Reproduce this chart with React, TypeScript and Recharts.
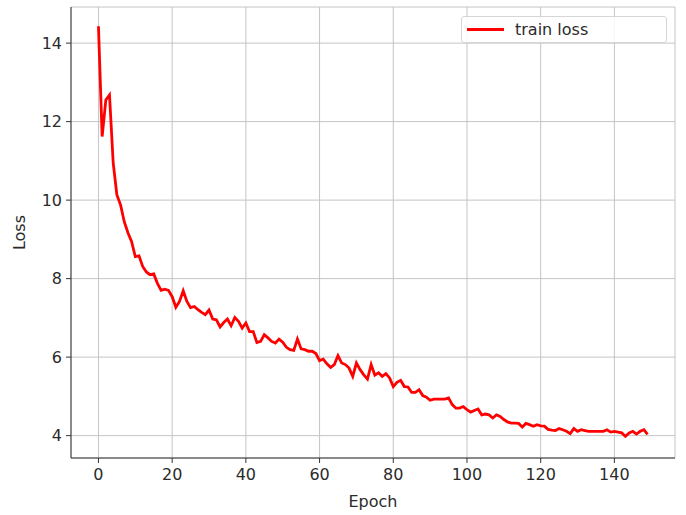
import {
  CartesianGrid,
  Line,
  LineChart,
  XAxis,
  YAxis,
} from "recharts";

// per-epoch training loss (epochs 0..149)
const trainLoss = [
  14.43, 11.62, 12.55, 12.68, 10.95, 10.13, 9.88, 9.45, 9.17, 8.94,
  8.56, 8.58, 8.31, 8.17, 8.1, 8.12, 7.88, 7.7, 7.73, 7.7,
  7.54, 7.27, 7.42, 7.69, 7.42, 7.26, 7.29, 7.21, 7.14, 7.08,
  7.2, 6.97, 6.95, 6.77, 6.88, 6.97, 6.8, 7.01, 6.91, 6.74,
  6.87, 6.65, 6.65, 6.37, 6.4, 6.57, 6.49, 6.4, 6.36, 6.46,
  6.38, 6.25, 6.19, 6.17, 6.46, 6.21, 6.19, 6.15, 6.15, 6.09,
  5.91, 5.95, 5.83, 5.74, 5.81, 6.04, 5.85, 5.81, 5.72, 5.51,
  5.85, 5.68, 5.55, 5.44, 5.81, 5.54, 5.6, 5.51, 5.58, 5.47,
  5.25, 5.36, 5.41, 5.25, 5.24, 5.1, 5.1, 5.17, 5.02, 4.98,
  4.9, 4.93, 4.93, 4.93, 4.93, 4.96, 4.79, 4.7, 4.7, 4.74,
  4.66, 4.6, 4.64, 4.68, 4.53, 4.55, 4.53, 4.45, 4.53, 4.49,
  4.41, 4.35, 4.32, 4.32, 4.31, 4.22, 4.31, 4.28, 4.24, 4.28,
  4.25, 4.24, 4.16, 4.14, 4.13, 4.18, 4.15, 4.11, 4.05, 4.18,
  4.11, 4.15, 4.13, 4.11, 4.11, 4.11, 4.11, 4.11, 4.15, 4.09,
  4.11, 4.09, 4.07, 3.98, 4.07, 4.11, 4.04, 4.11, 4.15, 4.03,
];

const xTicks = [0, 20, 40, 60, 80, 100, 120, 140];
const yTicks = [4, 6, 8, 10, 12, 14];

const data = trainLoss.map((loss, epoch) => ({ epoch, loss }));

const font = "DejaVu Sans";
const ink = "#2b2b2b";
const fs = 16;

// matplotlib-style legend box, laid over the top right of the plot
function LossLegend() {
  return (
    <div
      style={{
        position: "absolute",
        left: 461,
        top: 16,
        width: 204,
        height: 25,
        border: "1px solid #d6d6d6",
        borderRadius: 3,
        background: "rgba(255,255,255,0.85)",
        display: "flex",
        alignItems: "center",
        fontFamily: font,
        fontSize: fs,
        color: ink,
      }}
    >
      <span
        style={{
          display: "inline-block",
          width: 37,
          height: 3,
          background: "#ff0000",
          marginLeft: 5,
          marginRight: 11,
        }}
      />
      train loss
    </div>
  );
}

export default function App() {
  return (
    <div
      style={{
        position: "absolute",
        left: 0,
        top: 0,
        width: 686,
        height: 515,
        background: "#fff",
      }}
    >
      <LineChart
        width={686}
        height={515}
        data={data}
        margin={{ top: 7, right: 11, bottom: 0, left: 0 }}
      >
        <CartesianGrid stroke="#c4c4c4" strokeWidth={1} />
        <XAxis
          dataKey="epoch"
          type="number"
          domain={[-7.45, 156.45]}
          ticks={xTicks}
          allowDataOverflow
          height={57}
          stroke="#333"
          tickSize={5}
          tickMargin={6}
          tick={{ fill: ink, fontSize: fs, fontFamily: font }}
          label={{
            value: "Epoch",
            position: "insideBottom",
            offset: 8,
            style: { fill: ink, fontSize: fs, fontFamily: font },
          }}
        />
        <XAxis
          xAxisId="top"
          orientation="top"
          dataKey="epoch"
          type="number"
          domain={[-7.45, 156.45]}
          height={0}
          tick={false}
          tickLine={false}
          stroke="#333"
        />
        <YAxis
          type="number"
          domain={[3.43, 14.92]}
          ticks={yTicks}
          allowDataOverflow
          width={71}
          stroke="#333"
          tickSize={5}
          tickMargin={4}
          tick={{ fill: ink, fontSize: fs, fontFamily: font }}
          label={{
            value: "Loss",
            angle: -90,
            position: "insideLeft",
            offset: 19,
            style: { textAnchor: "middle", fill: ink, fontSize: fs, fontFamily: font },
          }}
        />
        <YAxis
          yAxisId="right"
          orientation="right"
          domain={[3.43, 14.92]}
          width={0}
          tick={false}
          tickLine={false}
          stroke="#333"
        />
        <Line
          type="linear"
          dataKey="loss"
          stroke="#ff0000"
          strokeWidth={2.8}
          dot={false}
          isAnimationActive={false}
        />
      </LineChart>
      <LossLegend />
    </div>
  );
}
